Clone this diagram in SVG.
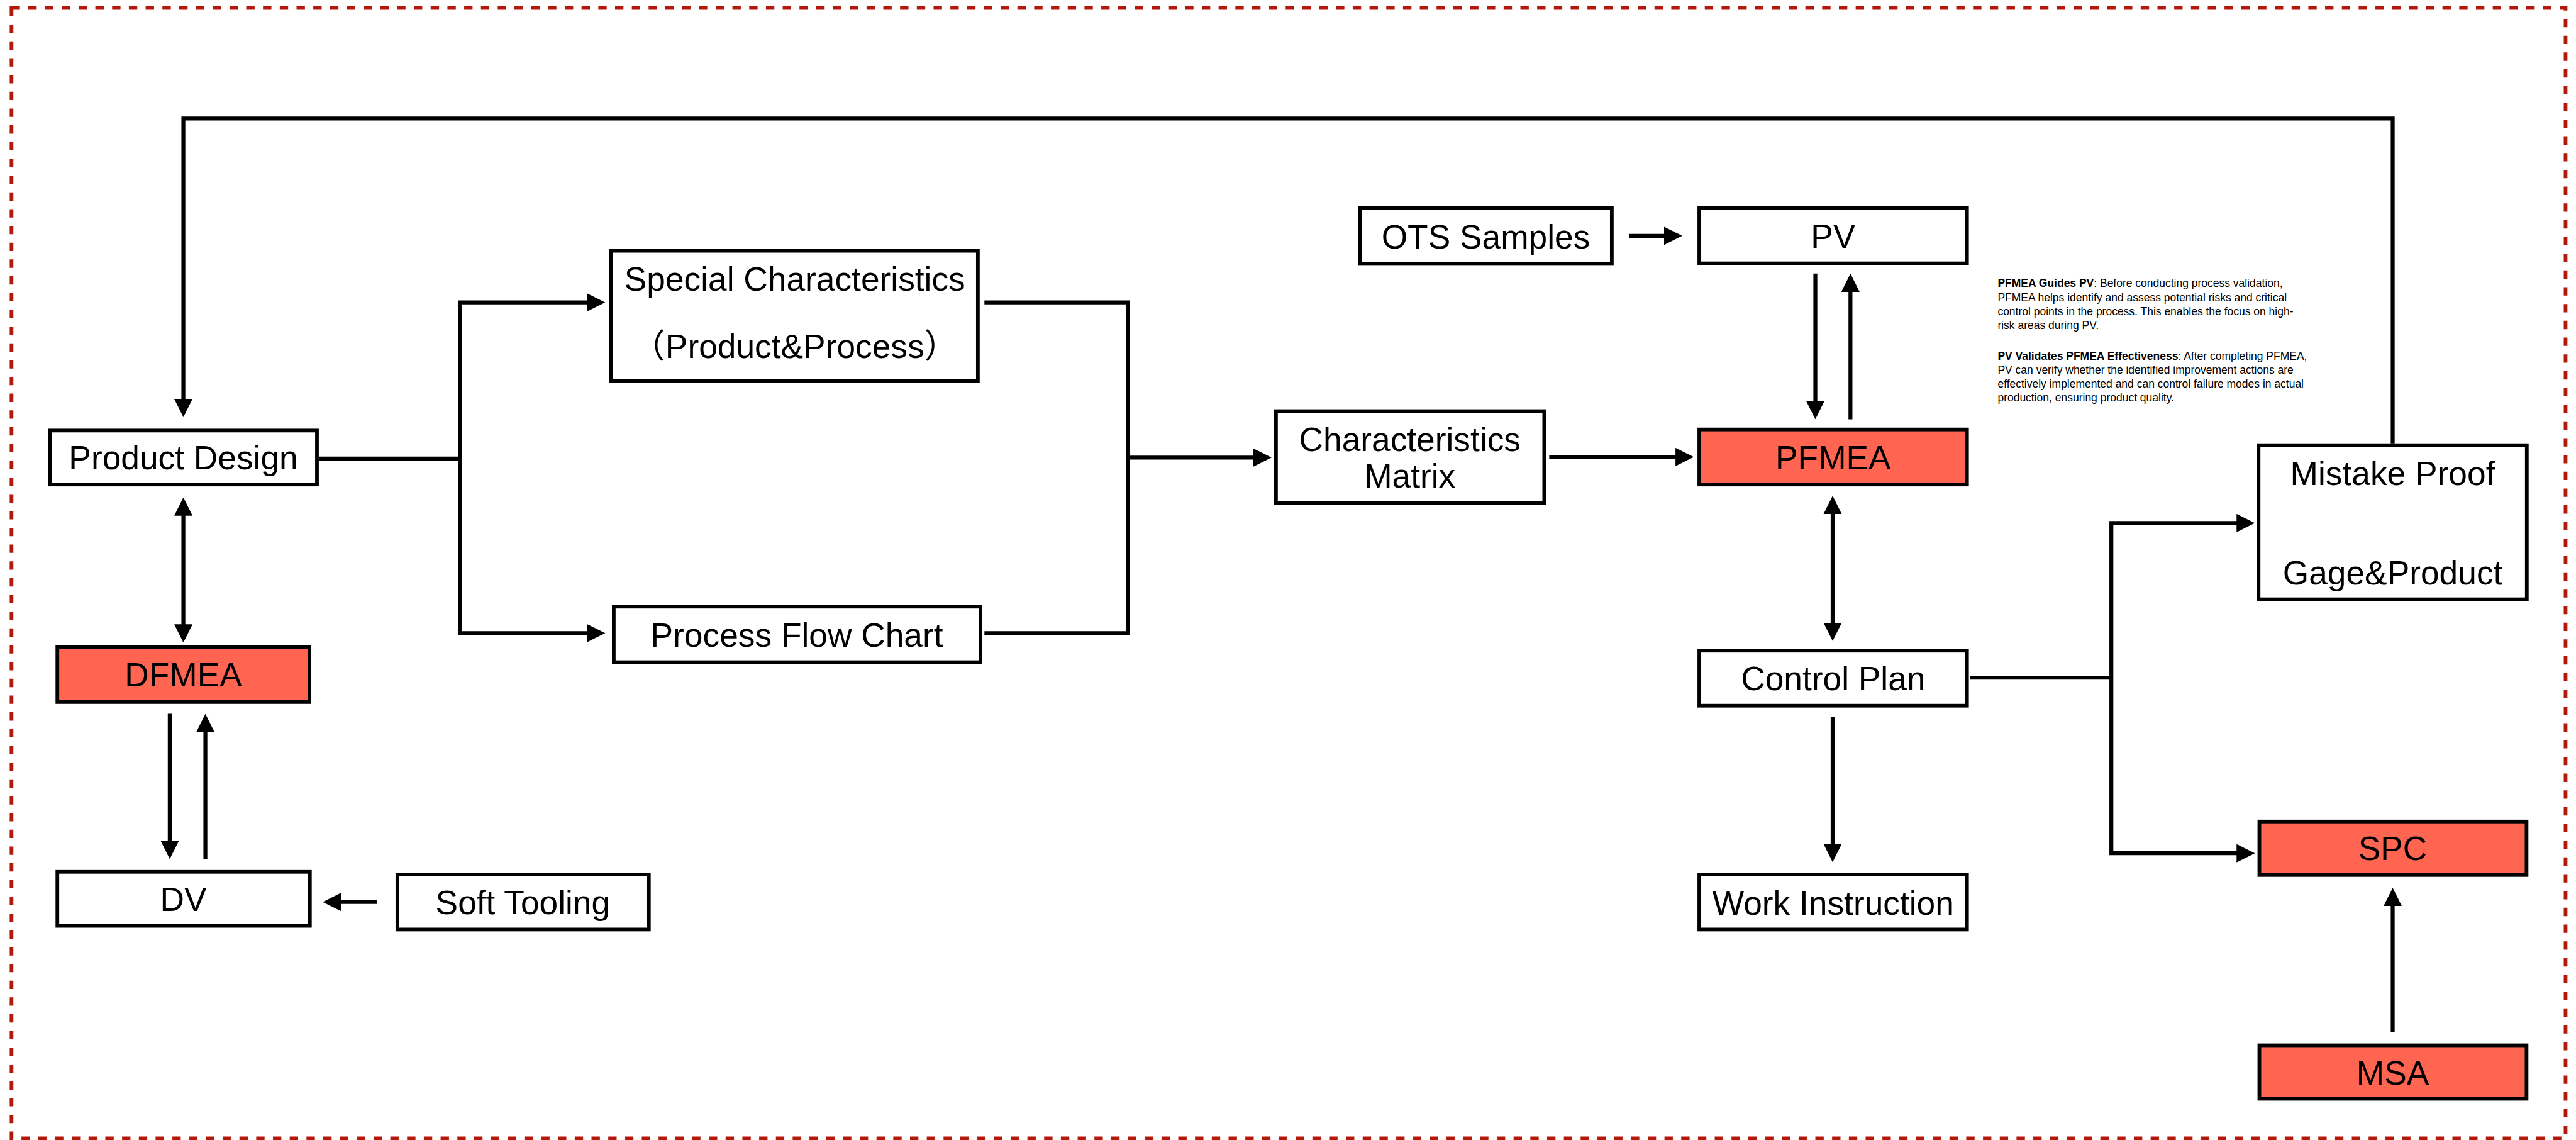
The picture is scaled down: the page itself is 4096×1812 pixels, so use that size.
<svg xmlns="http://www.w3.org/2000/svg" width="4096" height="1812" viewBox="0 0 4096 1812">
  <defs>
    <style>
      .box { fill: #ffffff; stroke: #000000; stroke-width: 7; }
      .hot { fill: #ff6550; stroke: #000000; stroke-width: 7; }
      .lbl { font-family: "Liberation Sans", Arial, "Noto Sans CJK SC", sans-serif; font-size: 64px; fill: #000000; text-anchor: middle; }
      .note { font-family: "Liberation Sans", Arial, sans-serif; font-size: 21px; fill: #000000; }
      .note .b { font-weight: bold; }
      .wire { fill: none; stroke: #000000; stroke-width: 7.5; stroke-linejoin: miter; stroke-linecap: butt; }
      .arr { marker-end: url(#ah); }
      .arr2 { marker-start: url(#ah); marker-end: url(#ah); }
    </style>
    <marker id="ah" markerUnits="userSpaceOnUse" viewBox="0 0 35 35" markerWidth="35" markerHeight="35" refX="5" refY="17.5" orient="auto-start-reverse">
      <path d="M0,0 L35,17.5 L0,35 Z" fill="#000000"/>
    </marker>
  </defs>

  <rect x="0" y="0" width="4096" height="1812" fill="#ffffff"/>

  <g transform="scale(0.83305)">
    <!-- outer dashed frame -->
    <rect id="frame" x="22" y="15" width="4875" height="2157" fill="none" stroke="#b3190b" stroke-width="7" stroke-dasharray="16 16"/>

    <!-- connectors -->
    <g id="connectors">
      <path class="wire arr" d="M4567,846 V226 H350 V766"/>
      <path class="wire" d="M609,875 H878"/>
      <path class="wire arr2" d="M1125,577 H878 V1208 H1125"/>
      <path class="wire" d="M1879,577 H2153 V1208 H1879"/>
      <path class="wire arr" d="M2153,873 H2397"/>
      <path class="wire arr" d="M2957,872 H3203"/>
      <path class="wire arr" d="M3109,450 H3181"/>
      <path class="wire arr" d="M3465,522 V770"/>
      <path class="wire arr" d="M3532,800 V552"/>
      <path class="wire arr2" d="M3498,976 V1193"/>
      <path class="wire arr" d="M3498,1368 V1615"/>
      <path class="wire" d="M3760,1293 H4030"/>
      <path class="wire arr2" d="M4274,998 H4030 V1628 H4274"/>
      <path class="wire arr" d="M4567,1970 V1724"/>
      <path class="wire arr2" d="M350,979 V1196"/>
      <path class="wire arr" d="M324,1362 V1609"/>
      <path class="wire arr" d="M392,1639 V1392"/>
      <path class="wire arr" d="M720,1721 H646"/>
    </g>

    <!-- nodes -->
    <g id="product-design">
      <rect class="box" x="95" y="821.5" width="510" height="103"/>
      <text class="lbl" x="350" y="896">Product Design</text>
    </g>
    <g id="dfmea">
      <rect class="hot" x="109.5" y="1234.5" width="481" height="105"/>
      <text class="lbl" x="350" y="1310">DFMEA</text>
    </g>
    <g id="dv">
      <rect class="box" x="109.5" y="1663.5" width="482" height="103"/>
      <text class="lbl" x="350" y="1738">DV</text>
    </g>
    <g id="soft-tooling">
      <rect class="box" x="758.5" y="1668.5" width="480" height="105"/>
      <text class="lbl" x="998" y="1744">Soft Tooling</text>
    </g>
    <g id="special-characteristics">
      <rect class="box" x="1166.5" y="478.5" width="700" height="248"/>
      <text class="lbl" x="1517" y="555">Special Characteristics</text>
      <text class="lbl" x="1517" y="683">（Product&amp;Process）</text>
    </g>
    <g id="process-flow-chart">
      <rect class="box" x="1171.5" y="1157.5" width="700" height="106"/>
      <text class="lbl" x="1521" y="1234">Process Flow Chart</text>
    </g>
    <g id="characteristics-matrix">
      <rect class="box" x="2435.5" y="784.5" width="512" height="175"/>
      <text class="lbl" x="2691" y="861">Characteristics</text>
      <text class="lbl" x="2691" y="930">Matrix</text>
    </g>
    <g id="ots-samples">
      <rect class="box" x="2595.5" y="396.5" width="481" height="107"/>
      <text class="lbl" x="2836" y="474">OTS Samples</text>
    </g>
    <g id="pv">
      <rect class="box" x="3243.5" y="396.5" width="511" height="106"/>
      <text class="lbl" x="3499" y="473">PV</text>
    </g>
    <g id="pfmea">
      <rect class="hot" x="3243.5" y="819.5" width="511" height="105"/>
      <text class="lbl" x="3499" y="896">PFMEA</text>
    </g>
    <g id="control-plan">
      <rect class="box" x="3243.5" y="1241.5" width="511" height="105"/>
      <text class="lbl" x="3499" y="1317">Control Plan</text>
    </g>
    <g id="work-instruction">
      <rect class="box" x="3243.5" y="1668.5" width="511" height="105"/>
      <text class="lbl" x="3499" y="1745">Work Instruction</text>
    </g>
    <g id="mistake-proof">
      <rect class="box" x="4311" y="849.5" width="512" height="294"/>
      <text class="lbl" x="4567" y="926">Mistake Proof</text>
      <text class="lbl" x="4567" y="1115">Gage&amp;Product</text>
    </g>
    <g id="spc">
      <rect class="hot" x="4312.5" y="1567.5" width="510" height="102"/>
      <text class="lbl" x="4567" y="1641">SPC</text>
    </g>
    <g id="msa">
      <rect class="hot" x="4312.5" y="1994.5" width="510" height="102"/>
      <text class="lbl" x="4567" y="2069">MSA</text>
    </g>

    <!-- explanatory note -->
    <g id="note">
      <text class="note" x="3813" y="548"><tspan class="b">PFMEA Guides PV</tspan>: Before conducting process validation,</text>
      <text class="note" x="3813" y="575">PFMEA helps identify and assess potential risks and critical</text>
      <text class="note" x="3813" y="602">control points in the process. This enables the focus on high-</text>
      <text class="note" x="3813" y="628">risk areas during PV.</text>
      <text class="note" x="3813" y="687"><tspan class="b">PV Validates PFMEA Effectiveness</tspan>: After completing PFMEA,</text>
      <text class="note" x="3813" y="713">PV can verify whether the identified improvement actions are</text>
      <text class="note" x="3813" y="739">effectively implemented and can control failure modes in actual</text>
      <text class="note" x="3813" y="766">production, ensuring product quality.</text>
    </g>
  </g>
</svg>
